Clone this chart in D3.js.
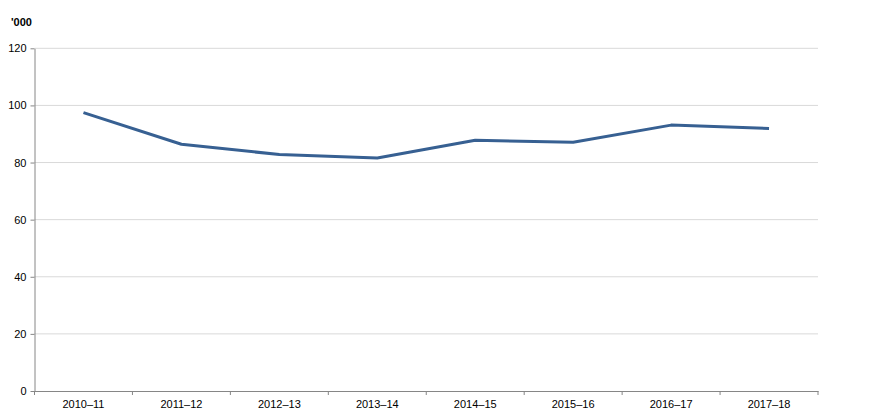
<!DOCTYPE html>
<html><head><meta charset="utf-8">
<script src="https://cdn.jsdelivr.net/npm/d3@7"></script>
<style>body{margin:0;background:#fff;}svg{display:block;font-family:"Liberation Sans",Arial,sans-serif;}</style>
</head><body><svg id="c" width="869" height="416"></svg>
<script>
const categories = ["2010–11","2011–12","2012–13","2013–14","2014–15","2015–16","2016–17","2017–18"];
const values = [97.5, 86.4, 82.8, 81.6, 87.8, 87.1, 93.1, 91.9];
const yTicks = [0,20,40,60,80,100,120];
const unitLabel = "'000";

const svg = d3.select("#c");
const m = {l:34.5, r:818, t:48.3, b:391};
const x = d3.scaleBand().domain(categories).range([m.l, m.r]);
const y = d3.scaleLinear().domain([0,120]).range([m.b, m.t]);

// gridlines
svg.append("g").selectAll("line").data(yTicks.filter(d=>d>0)).join("line")
  .attr("x1", m.l).attr("x2", m.r).attr("y1", d=>y(d)).attr("y2", d=>y(d))
  .attr("stroke", "#d9d9d9").attr("stroke-width", 1);

// y axis
const ya = svg.append("g").attr("transform", `translate(${m.l},0)`)
  .call(d3.axisLeft(y).tickValues(yTicks).tickSize(4).tickPadding(4).tickSizeOuter(0));
ya.select(".domain").attr("stroke", "#868686");
ya.selectAll(".tick line").attr("stroke", "#868686");
ya.selectAll("text").attr("font-size", 11).attr("fill", "#000").attr("font-family", "Liberation Sans, Arial, sans-serif");

// x axis
const xa = svg.append("g").attr("transform", `translate(0,${m.b})`)
  .call(d3.axisBottom(x).tickSize(0).tickPadding(9));
xa.select(".domain").attr("stroke", "#868686");
xa.selectAll("text").attr("font-size", 11).attr("fill", "#000").attr("font-family", "Liberation Sans, Arial, sans-serif");
const bounds = categories.map(c=>x(c)).concat([x(categories[categories.length-1]) + x.bandwidth()]);
svg.append("g").selectAll("line").data(bounds).join("line")
  .attr("x1", d=>d).attr("x2", d=>d).attr("y1", m.b).attr("y2", m.b+4)
  .attr("stroke", "#868686");

// line
const line = d3.line().x((d,i)=>x(categories[i]) + x.bandwidth()/2).y(d=>y(d));
svg.append("path").datum(values).attr("d", line)
  .attr("fill", "none").attr("stroke", "#376092").attr("stroke-width", 3)
  .attr("stroke-linejoin", "round");

svg.append("text").attr("x", 11).attr("y", 26).attr("font-size", 11).attr("font-weight", "bold")
  .attr("fill", "#000").text(unitLabel);
</script></body></html>
